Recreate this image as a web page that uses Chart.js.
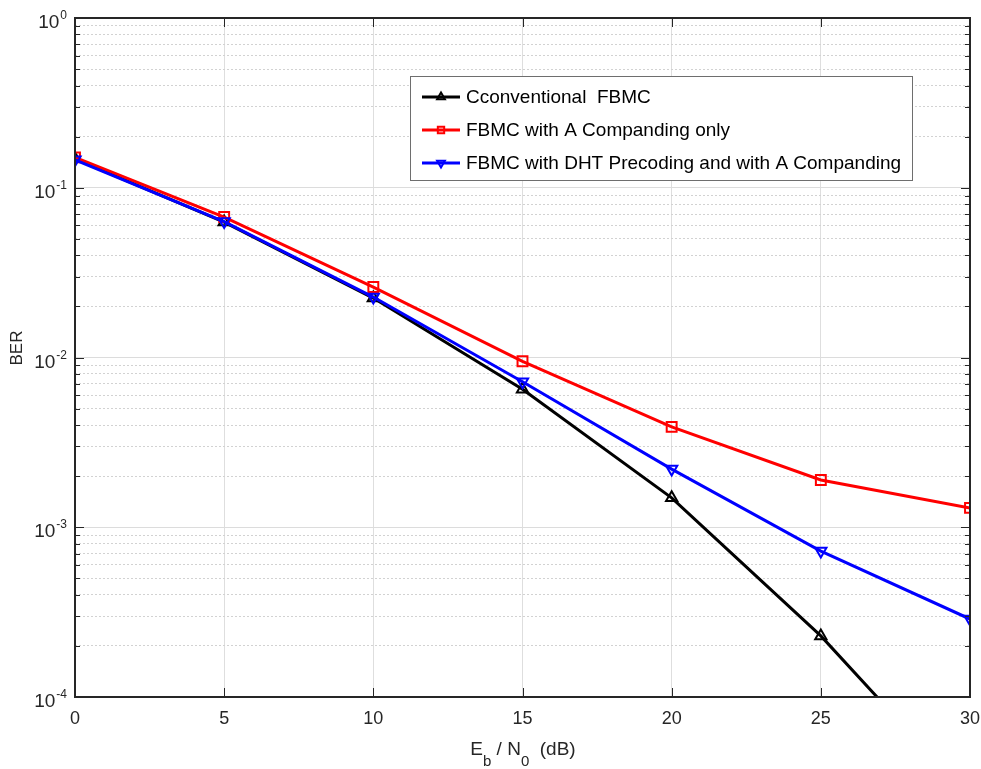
<!DOCTYPE html>
<html>
<head>
<meta charset="utf-8">
<title>BER vs Eb/N0</title>
<script src="https://cdn.jsdelivr.net/npm/chart.js@4.4.0/dist/chart.umd.min.js"></script>
<style>
  html, body { margin: 0; padding: 0; background: #fff; }
  #wrap { width: 981px; height: 769px; }
</style>
</head>
<body>
<div id="wrap"><canvas id="berChart" width="981" height="769"></canvas></div>
<script>
// data
const snrDb = [0, 5, 10, 15, 20, 25, 30];
const berConventional = [0.148, 0.0628, 0.0224, 0.0065, 0.00149, 0.000229, 0.0000254];
const berCompanding = [0.151, 0.0672, 0.026, 0.0095, 0.0039, 0.0019, 0.0013];
const berDhtCompanding = [0.146, 0.0632, 0.0227, 0.0072, 0.0022, 0.000724, 0.000288];
const seriesNames = ["Cconventional  FBMC", "FBMC with A Companding only", "FBMC with DHT Precoding and with A Companding"];
const xTickValues = [0, 5, 10, 15, 20, 25, 30];
const yDecades = [-4, -3, -2, -1, 0];

const FONT = '"Liberation Sans", Arial, Helvetica, sans-serif';
const AXIS_COLOR = "#262626";

function toPoints(ys) {
  return snrDb.map((x, i) => ({ x: x, y: ys[i] }));
}

function isDecade(v) {
  const l = Math.log10(v);
  return Math.abs(l - Math.round(l)) < 1e-6;
}

// all log ticks: 1..9 x 10^e
function logTicks() {
  const out = [];
  yDecades.forEach(e => {
    if (e === 0) { out.push({ value: 1, major: true }); return; }
    for (let m = 1; m <= 9; m++) out.push({ value: m * Math.pow(10, e), major: m === 1 });
  });
  return out;
}

// frame, inward ticks, tick labels, axis titles, legend
const matlabAxes = {
  id: "matlabAxes",
  afterDraw(chart) {
    const ctx = chart.ctx;
    const area = chart.chartArea;
    const xs = chart.scales.x;
    const ys = chart.scales.y;
    ctx.save();

    // inward tick marks
    ctx.strokeStyle = AXIS_COLOR;
    ctx.lineWidth = 1;
    ctx.beginPath();
    xTickValues.forEach(v => {
      const px = Math.round(xs.getPixelForValue(v)) + 0.5;
      ctx.moveTo(px, area.bottom); ctx.lineTo(px, area.bottom - 9);
      ctx.moveTo(px, area.top); ctx.lineTo(px, area.top + 9);
    });
    logTicks().forEach(t => {
      const py = Math.round(ys.getPixelForValue(t.value)) + 0.5;
      const len = t.major ? 9 : 5;
      ctx.moveTo(area.left, py); ctx.lineTo(area.left + len, py);
      ctx.moveTo(area.right, py); ctx.lineTo(area.right - len, py);
    });
    ctx.stroke();

    // box
    ctx.lineWidth = 2;
    ctx.strokeRect(area.left, area.top, area.right - area.left, area.bottom - area.top);

    // x tick labels
    ctx.fillStyle = AXIS_COLOR;
    ctx.font = "18px " + FONT;
    ctx.textAlign = "center";
    ctx.textBaseline = "middle";
    xTickValues.forEach(v => {
      ctx.fillText(String(v), xs.getPixelForValue(v), area.bottom + 22);
    });

    // y tick labels 10^e
    ctx.textAlign = "right";
    ctx.textBaseline = "alphabetic";
    yDecades.forEach(e => {
      const py = ys.getPixelForValue(Math.pow(10, e));
      const expText = e === 0 ? "0" : "-" + Math.abs(e);
      ctx.font = "12px " + FONT;
      const expW = ctx.measureText(expText).width;
      ctx.fillText(expText, area.left - 8, py + 1);
      ctx.font = "19px " + FONT;
      ctx.fillText("10", area.left - 8 - expW - 1, py + 10);
    });

    // y title
    ctx.save();
    ctx.translate(17, 348);
    ctx.rotate(-Math.PI / 2);
    ctx.textAlign = "center";
    ctx.textBaseline = "middle";
    ctx.font = "17px " + FONT;
    ctx.fillText("BER", 0, 0);
    ctx.restore();

    // x title with subscripts
    const parts = [
      { t: "E", size: 19, dy: 0 },
      { t: "b", size: 15, dy: 11 },
      { t: " / N", size: 19, dy: 0 },
      { t: "0", size: 15, dy: 11 },
      { t: "  (dB)", size: 19, dy: 0 }
    ];
    let total = 0;
    parts.forEach(p => { ctx.font = p.size + "px " + FONT; p.w = ctx.measureText(p.t).width; total += p.w; });
    let cx = 523 - total / 2;
    const base = 755;
    ctx.textAlign = "left";
    parts.forEach(p => {
      ctx.font = p.size + "px " + FONT;
      ctx.fillText(p.t, cx, base + p.dy);
      cx += p.w;
    });

    // legend box
    const lx = 410, ly = 76, lw = 502, lh = 104;
    ctx.fillStyle = "#ffffff";
    ctx.fillRect(lx, ly, lw, lh);
    ctx.strokeStyle = "#6e6e6e";
    ctx.lineWidth = 1;
    ctx.strokeRect(lx + 0.5, ly + 0.5, lw, lh);
    const rows = [97, 130, 163];
    chart.data.datasets.forEach((ds, i) => {
      const ry = rows[i];
      ctx.strokeStyle = ds.borderColor;
      ctx.lineWidth = 3;
      ctx.beginPath();
      ctx.moveTo(422, ry); ctx.lineTo(460, ry);
      ctx.stroke();
      ctx.fillStyle = "rgba(0,0,0,0)";
      ctx.lineWidth = 2;
      if (Chart.helpers && Chart.helpers.drawPoint) {
        Chart.helpers.drawPoint(ctx, {
          pointStyle: ds.pointStyle,
          rotation: ds.pointRotation || 0,
          radius: 4.5,
          borderWidth: 2
        }, 441, ry);
      }
      ctx.fillStyle = "#000000";
      ctx.font = "19px " + FONT;
      ctx.textAlign = "left";
      ctx.textBaseline = "middle";
      ctx.fillText(ds.label, 466, ry + 1);
    });

    ctx.restore();
  }
};

function seriesStyle(color, style, radius, rotation) {
  return {
    borderColor: color,
    backgroundColor: color,
    borderWidth: 3,
    pointStyle: style,
    pointRadius: radius,
    pointRotation: rotation,
    pointBorderWidth: 2,
    pointBorderColor: color,
    pointBackgroundColor: "rgba(0,0,0,0)",
    tension: 0,
    fill: false
  };
}

const chart = new Chart(document.getElementById("berChart"), {
  type: "line",
  data: {
    datasets: [
      Object.assign({ label: seriesNames[0], data: toPoints(berConventional), order: 2 },
        seriesStyle("#000000", "triangle", 6.5, 0)),
      Object.assign({ label: seriesNames[1], data: toPoints(berCompanding), order: 1 },
        seriesStyle("#ff0000", "rect", 7, 0)),
      Object.assign({ label: seriesNames[2], data: toPoints(berDhtCompanding), order: 0 },
        seriesStyle("#0000ff", "triangle", 6.5, 180))
    ]
  },
  options: {
    responsive: false,
    animation: false,
    devicePixelRatio: 1,
    layout: { padding: { left: 75, right: 11, top: 18, bottom: 72 } },
    plugins: {
      legend: { display: false },
      tooltip: { enabled: false }
    },
    scales: {
      x: {
        type: "linear",
        min: 0,
        max: 30,
        afterBuildTicks: scale => { scale.ticks = xTickValues.map(v => ({ value: v })); },
        ticks: { display: false },
        grid: { color: "#dedede", lineWidth: 1, drawTicks: false },
        border: { display: false }
      },
      y: {
        type: "logarithmic",
        min: 1e-4,
        max: 1,
        afterBuildTicks: scale => { scale.ticks = logTicks(); },
        ticks: { display: false },
        grid: {
          drawTicks: false,
          lineWidth: 1,
          color: ctx => (ctx.tick && isDecade(ctx.tick.value)) ? "#dcdcdc" : "#d2d2d2"
        },
        border: {
          display: false,
          dash: ctx => (ctx.tick && !isDecade(ctx.tick.value)) ? [2, 2] : []
        }
      }
    }
  },
  plugins: [matlabAxes]
});
</script>
</body>
</html>
